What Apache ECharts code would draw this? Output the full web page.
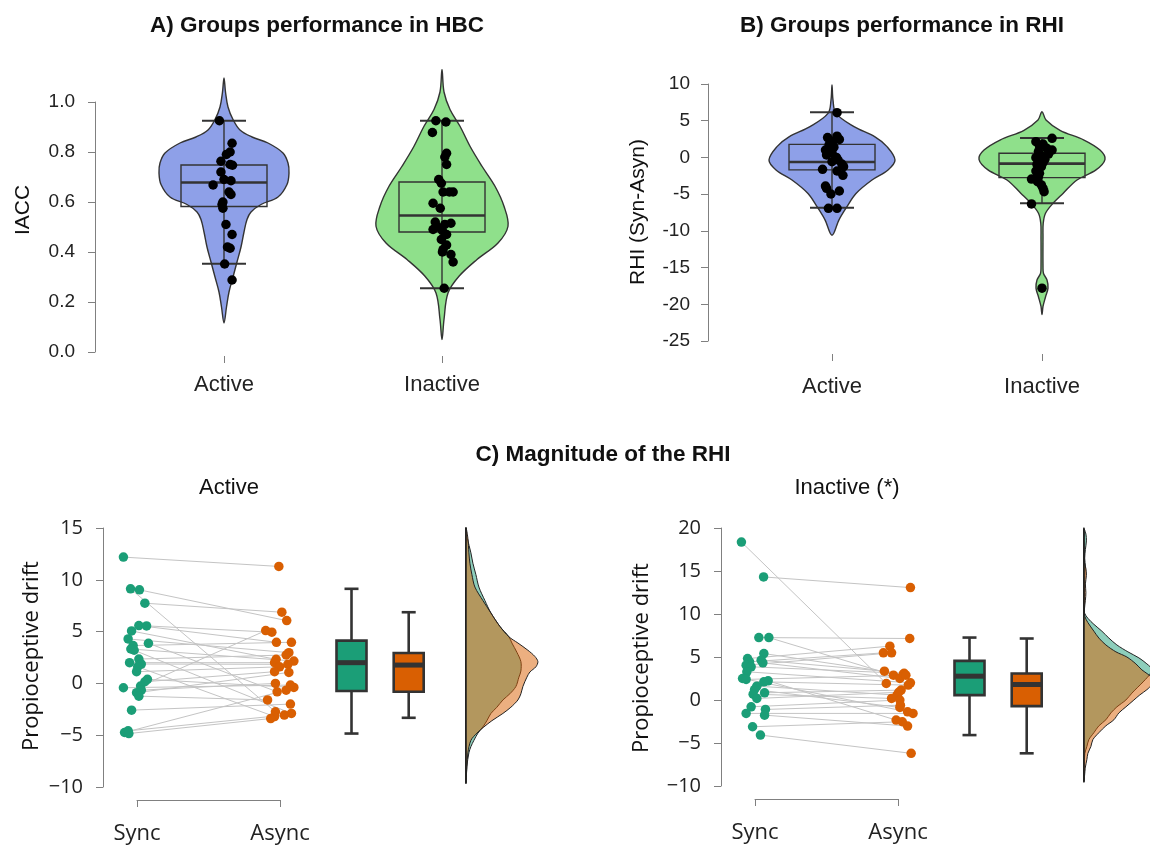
<!DOCTYPE html>
<html><head><meta charset="utf-8">
<script src="https://cdn.jsdelivr.net/npm/echarts@6/dist/echarts.min.js"></script>
<style>html,body{margin:0;padding:0;background:#fff}#main{width:1150px;height:847px}</style>
</head><body><div id="main"></div>
<script>
// ================= DATA =================
const groupsAB = ['Active', 'Inactive'];
const conditionsC = ['Sync', 'Async'];

// Panel A: IACC per group (points + jitter offsets in category units)
const iaccActive = [0.925,0.835,0.80,0.79,0.763,0.75,0.747,0.72,0.69,0.685,0.668,0.64,0.63,0.60,0.59,0.575,0.51,0.47,0.42,0.415,0.352,0.288];
const iaccActiveJitter = [-0.021,0.037,0.028,0.011,-0.014,0.028,0.039,-0.014,0,0.032,-0.050,0.023,0.032,-0.005,-0.009,-0.005,0.009,0.037,0.016,0.028,0.003,0.037];
const iaccInactive = [0.925,0.92,0.878,0.795,0.78,0.75,0.69,0.675,0.64,0.64,0.64,0.595,0.575,0.52,0.515,0.51,0.50,0.49,0.485,0.47,0.45,0.428,0.41,0.40,0.39,0.36,0.255];
const iaccInactiveJitter = [-0.028,0.018,-0.044,0.021,0.013,0.021,-0.015,-0.003,0.005,0.034,0.051,-0.041,-0.008,-0.031,0.041,0.013,-0.020,-0.041,0.002,0.021,-0.003,0.021,0.005,0.002,0.041,0.051,0.010];
// box stats: [lower whisker, Q1, median, Q3, upper whisker]
const iaccActiveBox = [0.353, 0.582, 0.678, 0.748, 0.925];
const iaccInactiveBox = [0.255, 0.48, 0.546, 0.68, 0.925];
// violin density profiles: [value, relative density]
const iaccActiveViolin = [[1.096,0],[1.04,1.5],[0.98,4],[0.93,9],[0.888,16],[0.86,28],[0.836,44],[0.796,59],[0.756,64],[0.716,65],[0.67,63],[0.62,54],[0.59,37],[0.56,27],[0.53,23],[0.48,20],[0.42,17],[0.36,13],[0.30,9],[0.24,5],[0.18,2.5],[0.116,0]];
const iaccInactiveViolin = [[1.13,0],[1.04,2],[0.97,8],[0.903,18],[0.823,28],[0.743,40],[0.663,53],[0.583,62],[0.503,66],[0.436,56],[0.37,35],[0.303,17],[0.236,6],[0.13,2],[0.05,0]];

// Panel B: RHI (Syn-Asyn)
const rhiActive = [6.1,2.9,2.7,2.45,2.15,1.7,1.4,1.0,0.65,0.33,0.0,-0.35,-0.58,-0.9,-1.26,-1.62,-1.85,-2.44,-3.9,-4.2,-4.57,-4.98,-6.93,-6.93];
const rhiActiveJitter = [0.024,0.024,-0.021,0.035,0.003,-0.014,0.009,-0.031,0,-0.026,0.021,0.029,0,0.047,0.055,-0.045,0.024,0.052,-0.031,-0.026,0.035,-0.005,-0.017,0.024];
const rhiInactive = [2.6,2.15,1.83,1.56,1.24,1.0,0.8,0.45,0.2,-0.03,-0.26,-0.5,-0.7,-0.95,-1.26,-1.58,-1.85,-2.16,-2.6,-2.94,-3.3,-3.75,-4.2,-4.66,-6.34,-17.8];
const rhiInactiveJitter = [0.048,-0.029,0.005,-0.012,0.023,0.048,-0.017,0.031,-0.003,-0.029,0.014,-0.017,0.005,-0.024,-0.003,-0.017,-0.029,-0.012,-0.017,-0.050,-0.021,-0.003,0.005,0.010,-0.050,0];
const rhiActiveBox = [-6.84, -1.7, -0.62, 1.78, 6.14];
const rhiInactiveBox = [-6.25, -2.75, -0.85, 0.56, 2.65];
const rhiActiveViolin = [[9.86,0],[7.8,1],[6.0,4],[4.2,22],[2.8,43],[1.47,55],[-0.35,63],[-1.7,56],[-3.07,40],[-4.9,24],[-6.7,15],[-8.5,7],[-10.6,0]];
const rhiInactiveViolin = [[6.23,0],[5.1,4],[3.7,18],[2.37,42],[1.0,58],[-0.26,63],[-1.7,54],[-3.07,35],[-4.9,21],[-6.25,11],[-7.6,3.5],[-9.0,1.2],[-10.8,1],[-14.9,1],[-15.8,1.5],[-16.7,5],[-17.8,6],[-19,3.5],[-20.3,1],[-21.4,0]];

// Panel C (Active): paired propioceptive drift, same index = same subject
const driftActiveSync = [12.19,9.13,9.03,7.74,5.58,5.55,5.06,4.29,3.87,3.65,3.32,3.2,2.35,2.0,1.87,1.6,1.13,0.39,0.16,-0.26,-0.42,-0.65,-0.9,-1.23,-2.58,-4.58,-4.74,-4.84];
const driftActiveSyncJitter = [-0.095,-0.045,0.017,0.055,0.013,0.067,-0.038,-0.062,0.080,-0.027,-0.043,-0.020,0.013,-0.052,0.030,0.005,-0.003,0.073,0.055,0.025,-0.095,0.030,-0.003,0.013,-0.038,-0.062,-0.087,-0.057];
const driftActiveAsync = [11.29,-2.74,6.06,6.87,3.97,4.94,2.32,2.97,-0.81,3.97,2.16,-2.9,2.74,2.0,1.84,-3.2,1.6,-0.39,1.13,5.1,-0.16,0.0,1.06,-1.6,-2.0,-3.06,-0.65,-3.39];
const driftActiveAsyncJitter = [-0.008,-0.032,0.047,0.013,-0.025,-0.057,-0.027,0.062,-0.020,0.080,0.097,0.080,0.043,-0.038,0.055,-0.038,-0.003,0.097,-0.038,-0.100,0.073,-0.032,0.062,-0.087,0.073,0.030,0.043,-0.065];
const driftActiveSyncBox = [-4.84, -0.74, 2.0, 4.13, 9.13];
const driftActiveAsyncBox = [-3.32, -0.81, 1.77, 2.94, 6.87];
const driftActiveSyncDensity = [[15,0],[14,1.5],[12.6,5],[11.6,7],[10.5,10],[9.3,13],[8,19],[6.8,25],[5.5,34],[4.5,43],[3.9,46],[3,51],[2.1,55],[1.2,55],[0.6,53],[-0.3,50],[-1.0,44],[-1.6,37],[-2.3,31],[-2.9,25],[-3.6,21],[-4.2,17],[-4.8,12],[-5.5,8],[-6.1,5],[-6.7,3],[-8,1],[-9.6,0]];
const driftActiveAsyncDensity = [[15,0],[14,2],[12.6,3],[11.6,4],[10.5,6],[9.3,9],[8,17],[6.8,25],[5.5,34],[4.5,43],[3.9,52],[3.2,62],[2.6,69],[2.1,72],[1.6,70],[1.1,64],[0.6,61],[-0.3,57],[-1.0,55],[-1.6,52],[-2.3,45],[-2.9,37],[-3.6,26],[-4.2,18],[-4.8,11],[-5.5,5],[-6.7,2],[-8,1],[-9.6,0]];

// Panel C (Inactive)
const driftInactiveSync = [18.37,14.31,7.26,7.26,5.4,4.82,4.63,4.44,4.32,4.05,3.86,3.28,2.5,2.39,2.23,2.11,1.61,1.22,0.84,0.68,0.18,-0.79,-1.1,-1.56,-1.76,-3.11,-4.08];
const driftInactiveSyncJitter = [-0.095,0.060,0.027,0.097,0.062,-0.052,0.043,-0.038,0.055,-0.062,-0.027,-0.057,-0.087,-0.062,0.092,0.062,0.013,-0.003,0.067,-0.013,0.013,-0.027,0.073,-0.062,0.067,-0.017,0.038];
const driftInactiveAsync = [1.92,13.07,7.15,2.89,3.0,6.26,3.35,5.48,2.5,5.48,3.1,2.0,-1.37,2.89,-2.34,1.73,0.57,-0.87,1.15,0.18,0.9,0.0,-0.6,-1.56,-3.03,-2.53,-6.2];
const driftInactiveAsyncJitter = [-0.082,0.087,0.082,-0.032,0.037,-0.057,-0.095,-0.102,0.013,-0.045,0.043,0.087,0.067,0.055,-0.013,0.072,-0.007,0.013,0.022,-0.045,0.005,0.013,0.017,0.105,0.067,0.030,0.092];
const driftInactiveSyncBox = [-4.08, 0.57, 2.77, 4.55, 7.26];
const driftInactiveAsyncBox = [-6.2, -0.71, 1.8, 3.08, 7.15];
const driftInactiveSyncDensity = [[19.9,0],[19.3,2],[18.5,2.5],[17.5,1.5],[16.5,0.8],[15.5,1.5],[14.8,1],[12,0.5],[10.2,0.5],[9.5,4],[8.8,10],[8.0,18],[7.2,25],[6.4,33],[5.6,44],[4.9,55],[4.2,63],[3.6,68],[3.0,66],[2.2,60],[1.5,54],[0.8,48],[0.0,42],[-0.8,33],[-1.5,27],[-2.3,22],[-3.0,15],[-3.8,10],[-4.6,5],[-5.4,3],[-6.2,1],[-7.5,0.3],[-9.5,0]];
const driftInactiveAsyncDensity = [[19.9,0],[16,0.5],[15.3,2],[14.5,2.5],[13.5,1.5],[12.5,2],[11.6,1.5],[10.5,0.5],[9.7,1],[9.0,4],[8.0,10],[7.2,15],[6.4,22],[5.6,32],[5.0,43],[4.2,52],[3.5,58],[3.0,64],[2.4,69],[1.8,68],[1.2,63],[0.6,56],[0.0,50],[-0.8,42],[-1.5,35],[-2.3,30],[-3.0,22],[-3.8,15],[-4.6,9],[-5.4,7],[-6.2,4],[-6.9,3],[-7.8,1.5],[-9.4,0]];

// ================= STYLE =================
const FONT_AB = 'Liberation Sans, Arial, sans-serif';
const FONT_C = 'Open Sans, Liberation Sans, sans-serif';
const AXIS_GREY = '#808080';
const DARK = '#333333';
const COL_ACTIVE = '#8ea0e8';
const COL_INACTIVE = '#8fe08b';
const COL_SYNC = '#1B9E77';
const COL_ASYNC = '#D95F02';
const DENS_PX = 1;   // px per density unit

// ================= HELPERS =================
function violinSeries(xi, yi, center, profile, fill) {
  return {
    type: 'custom', xAxisIndex: xi, yAxisIndex: yi, clip: false, silent: true, z: 2,
    data: [[center, profile[0][0]]],
    renderItem: function (params, api) {
      const right = [], left = [];
      profile.forEach(function (d) {
        const p = api.coord([center, d[0]]);
        right.push([p[0] + d[1] * DENS_PX, p[1]]);
        if (d[1] > 0) left.push([p[0] - d[1] * DENS_PX, p[1]]);
      });
      return { type: 'polygon', shape: { points: right.concat(left.reverse()), smooth: 0.35 },
               style: { fill: fill, stroke: DARK, lineWidth: 1.4 } };
    }
  };
}
function boxABSeries(xi, yi, center, st) {
  return {
    type: 'custom', xAxisIndex: xi, yAxisIndex: yi, clip: false, silent: true, z: 3,
    data: [[center, st[2]]],
    renderItem: function (params, api) {
      const lo = api.coord([center, st[0]]), q1 = api.coord([center, st[1]]), md = api.coord([center, st[2]]),
            q3 = api.coord([center, st[3]]), hi = api.coord([center, st[4]]);
      const x = lo[0], hw = 43, cw = 22;
      const ls = { stroke: DARK, lineWidth: 1.4, fill: null };
      return { type: 'group', children: [
        { type: 'line', shape: { x1: x, y1: hi[1], x2: x, y2: lo[1] }, style: ls },
        { type: 'line', shape: { x1: x - cw, y1: hi[1], x2: x + cw, y2: hi[1] }, style: { stroke: DARK, lineWidth: 2 } },
        { type: 'line', shape: { x1: x - cw, y1: lo[1], x2: x + cw, y2: lo[1] }, style: { stroke: DARK, lineWidth: 2 } },
        { type: 'rect', shape: { x: x - hw, y: q3[1], width: 2 * hw, height: q1[1] - q3[1] }, style: ls },
        { type: 'line', shape: { x1: x - hw, y1: md[1], x2: x + hw, y2: md[1] }, style: { stroke: DARK, lineWidth: 2.6 } }
      ] };
    }
  };
}
function pointsSeries(xi, yi, center, vals, jit, color, z) {
  return {
    type: 'scatter', xAxisIndex: xi, yAxisIndex: yi, clip: false, silent: true, z: z || 5,
    symbolSize: 9.5, itemStyle: { color: color, opacity: 1 },
    data: vals.map(function (v, i) { return [center + jit[i], v]; })
  };
}
function pairLinesSeries(xi, yi, a, ja, b, jb) {
  return {
    type: 'custom', xAxisIndex: xi, yAxisIndex: yi, clip: false, silent: true, z: 3,
    data: a.map(function (v, i) { return [1 + ja[i], v, 2 + jb[i], b[i]]; }),
    renderItem: function (params, api) {
      const p1 = api.coord([api.value(0), api.value(1)]), p2 = api.coord([api.value(2), api.value(3)]);
      return { type: 'line', shape: { x1: p1[0], y1: p1[1], x2: p2[0], y2: p2[1] }, style: { stroke: '#c4c4c4', lineWidth: 1 } };
    }
  };
}
function boxCSeries(xi, yi, center, st, fill) {
  return {
    type: 'custom', xAxisIndex: xi, yAxisIndex: yi, clip: false, silent: true, z: 4,
    data: [[center, st[2]]],
    renderItem: function (params, api) {
      const lo = api.coord([center, st[0]]), q1 = api.coord([center, st[1]]), md = api.coord([center, st[2]]),
            q3 = api.coord([center, st[3]]), hi = api.coord([center, st[4]]);
      const x = lo[0], hw = 15, cw = 7;
      const ws = { stroke: DARK, lineWidth: 2.6 };
      return { type: 'group', children: [
        { type: 'line', shape: { x1: x, y1: hi[1], x2: x, y2: q3[1] }, style: ws },
        { type: 'line', shape: { x1: x, y1: q1[1], x2: x, y2: lo[1] }, style: ws },
        { type: 'line', shape: { x1: x - cw, y1: hi[1], x2: x + cw, y2: hi[1] }, style: ws },
        { type: 'line', shape: { x1: x - cw, y1: lo[1], x2: x + cw, y2: lo[1] }, style: ws },
        { type: 'rect', shape: { x: x - hw, y: q3[1], width: 2 * hw, height: q1[1] - q3[1] }, style: { fill: fill, stroke: DARK, lineWidth: 2.6 } },
        { type: 'line', shape: { x1: x - hw, y1: md[1], x2: x + hw, y2: md[1] }, style: { stroke: DARK, lineWidth: 5 } }
      ] };
    }
  };
}
function halfDensitySeries(xi, yi, base, profA, profB) {
  return {
    type: 'custom', xAxisIndex: xi, yAxisIndex: yi, clip: false, silent: true, z: 2,
    data: [[base, 0]],
    renderItem: function (params, api) {
      function poly(prof, fill) {
        const pts = prof.map(function (d) { const p = api.coord([base, d[0]]); return [p[0] + d[1] * DENS_PX, p[1]]; });
        return { type: 'polygon', shape: { points: pts, smooth: 0.3 }, style: { fill: fill, stroke: '#222', lineWidth: 1 } };
      }
      const top = api.coord([base, Math.max(profA[0][0], profB[0][0])]);
      const bot = api.coord([base, Math.min(profA[profA.length - 1][0], profB[profB.length - 1][0])]);
      return { type: 'group', children: [
        poly(profA, 'rgba(27,158,119,0.5)'),
        poly(profB, 'rgba(217,95,2,0.5)'),
        { type: 'line', shape: { x1: top[0], y1: top[1], x2: bot[0], y2: bot[1] }, style: { stroke: '#222', lineWidth: 1.6 } }
      ] };
    }
  };
}
function yAxisDef(gi, min, max, interval, offset, font, size, margin, fmt) {
  return {
    type: 'value', gridIndex: gi, min: min, max: max, interval: interval, offset: offset,
    axisLine: { show: true, onZero: false, lineStyle: { color: AXIS_GREY, width: 1 } },
    axisTick: { show: true, length: 7, lineStyle: { color: AXIS_GREY, width: 1 } },
    splitLine: { show: false },
    axisLabel: { fontFamily: font, fontSize: size, color: '#222', margin: margin, formatter: fmt }
  };
}
function catAxis(gi, offset, margin) {
  return {
    type: 'category', gridIndex: gi, data: groupsAB, position: 'bottom', offset: offset,
    axisLine: { show: false, onZero: false },
    axisTick: { show: true, alignWithLabel: true, length: 7, lineStyle: { color: AXIS_GREY } },
    axisLabel: { fontFamily: FONT_AB, fontSize: 22, color: '#222', margin: margin }
  };
}
function hiddenX(gi, min, max) { return { type: 'value', gridIndex: gi, min: min, max: max, show: false, axisLine: { onZero: false } }; }
function condAxis(gi) {
  return {
    type: 'value', gridIndex: gi, min: 1, max: 2, interval: 1, offset: 13, position: 'bottom',
    axisLine: { show: true, onZero: false, lineStyle: { color: AXIS_GREY } },
    axisTick: { show: true, length: 7, lineStyle: { color: AXIS_GREY } },
    splitLine: { show: false },
    axisLabel: { fontFamily: FONT_C, fontSize: 22, color: '#222', margin: 23,
                 formatter: function (v) { return conditionsC[Math.round(v) - 1]; } }
  };
}
const minusFmt = function (v) { return String(v).replace('-', '\u2212'); };

function txt(x, y, s, size, font, weight, rot) {
  return { type: 'text', x: x, y: y, rotation: rot || 0, silent: true,
           style: { text: s, fontSize: size, fontFamily: font, fontWeight: weight || 'normal', fill: '#111',
                    textAlign: 'center', textVerticalAlign: 'middle' } };
}

// ================= CHART =================
const chart = echarts.init(document.getElementById('main'));
chart.setOption({
  animation: false,
  backgroundColor: '#ffffff',
  grid: [
    { left: 115, top: 102, width: 436, height: 250 },
    { left: 727, top: 84, width: 420, height: 257 },
    { left: 137, top: 528, width: 143, height: 259 },
    { left: 755, top: 528, width: 143, height: 258 }
  ],
  xAxis: [
    catAxis(0, 4, 18), hiddenX(0, 0.5, 2.5),
    catAxis(1, 13, 22), hiddenX(1, 0.5, 2.5),
    condAxis(2), condAxis(3)
  ],
  yAxis: [
    yAxisDef(0, 0, 1, 0.2, 20, FONT_AB, 19, 20, function (v) { return v.toFixed(1); }),
    yAxisDef(1, -25, 10, 5, 19, FONT_AB, 19, 18, null),
    yAxisDef(2, -10, 15, 5, 34, FONT_C, 20, 20, minusFmt),
    yAxisDef(3, -10, 20, 5, 34, FONT_C, 20, 20, minusFmt)
  ],
  series: [
    violinSeries(1, 0, 1, iaccActiveViolin, COL_ACTIVE),
    violinSeries(1, 0, 2, iaccInactiveViolin, COL_INACTIVE),
    boxABSeries(1, 0, 1, iaccActiveBox),
    boxABSeries(1, 0, 2, iaccInactiveBox),
    pointsSeries(1, 0, 1, iaccActive, iaccActiveJitter, '#000'),
    pointsSeries(1, 0, 2, iaccInactive, iaccInactiveJitter, '#000'),

    violinSeries(3, 1, 1, rhiActiveViolin, COL_ACTIVE),
    violinSeries(3, 1, 2, rhiInactiveViolin, COL_INACTIVE),
    boxABSeries(3, 1, 1, rhiActiveBox),
    boxABSeries(3, 1, 2, rhiInactiveBox),
    pointsSeries(3, 1, 1, rhiActive, rhiActiveJitter, '#000'),
    pointsSeries(3, 1, 2, rhiInactive, rhiInactiveJitter, '#000'),

    pairLinesSeries(4, 2, driftActiveSync, driftActiveSyncJitter, driftActiveAsync, driftActiveAsyncJitter),
    pointsSeries(4, 2, 1, driftActiveSync, driftActiveSyncJitter, COL_SYNC),
    pointsSeries(4, 2, 2, driftActiveAsync, driftActiveAsyncJitter, COL_ASYNC),
    boxCSeries(4, 2, 2.5, driftActiveSyncBox, COL_SYNC),
    boxCSeries(4, 2, 2.9, driftActiveAsyncBox, COL_ASYNC),
    halfDensitySeries(4, 2, 3.3, driftActiveSyncDensity, driftActiveAsyncDensity),

    pairLinesSeries(5, 3, driftInactiveSync, driftInactiveSyncJitter, driftInactiveAsync, driftInactiveAsyncJitter),
    pointsSeries(5, 3, 1, driftInactiveSync, driftInactiveSyncJitter, COL_SYNC),
    pointsSeries(5, 3, 2, driftInactiveAsync, driftInactiveAsyncJitter, COL_ASYNC),
    boxCSeries(5, 3, 2.5, driftInactiveSyncBox, COL_SYNC),
    boxCSeries(5, 3, 2.9, driftInactiveAsyncBox, COL_ASYNC),
    halfDensitySeries(5, 3, 3.3, driftInactiveSyncDensity, driftInactiveAsyncDensity)
  ],
  graphic: [
    txt(317, 26, 'A) Groups performance in HBC', 22.5, FONT_AB, 'bold'),
    txt(902, 26, 'B) Groups performance in RHI', 22.5, FONT_AB, 'bold'),
    txt(603, 455, 'C) Magnitude of the RHI', 22.5, FONT_AB, 'bold'),
    txt(229, 488, 'Active', 22, FONT_AB),
    txt(847, 488, 'Inactive (*)', 22, FONT_AB),
    txt(23, 210, 'IACC', 21, FONT_AB, 'normal', Math.PI / 2),
    txt(638, 212, 'RHI (Syn-Asyn)', 21, FONT_AB, 'normal', Math.PI / 2),
    txt(32, 656, 'Propioceptive drift', 22, FONT_C, 'normal', Math.PI / 2),
    txt(642, 658, 'Propioceptive drift', 22, FONT_C, 'normal', Math.PI / 2)
  ]
});
</script></body></html>
